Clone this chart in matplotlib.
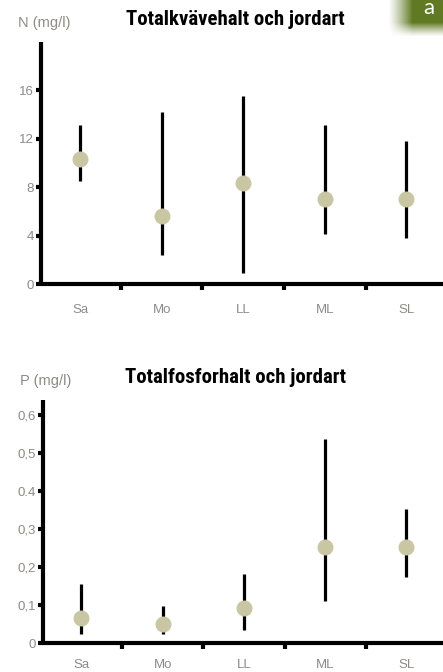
import numpy as np
import matplotlib.pyplot as plt
from matplotlib import font_manager

# soil types on the x axis
soils = ["Sa", "Mo", "LL", "ML", "SL"]

# total nitrogen (mg/l): mean, low, high
n_mean = [10.3, 5.6, 8.35, 7.0, 7.0]
n_low = [8.5, 2.4, 0.9, 4.1, 3.8]
n_high = [13.1, 14.2, 15.5, 13.1, 11.8]
n_ticks = [0, 4, 8, 12, 16]
n_ticklabels = ["0", "4", "8", "12", "16"]

# total phosphorus (mg/l): mean, low, high
p_mean = [0.067, 0.051, 0.091, 0.252, 0.252]
p_low = [0.023, 0.023, 0.033, 0.111, 0.174]
p_high = [0.155, 0.097, 0.183, 0.537, 0.352]
p_ticks = [0, 0.1, 0.2, 0.3, 0.4, 0.5, 0.6]
p_ticklabels = ["0", "0,1", "0,2", "0,3", "0.4", "0,5", "0,6"]


def bold_narrow_families():
    # narrow / condensed families that ship a bold face
    found = set()
    for f in font_manager.fontManager.ttflist:
        if "Narrow" in f.name or "Condensed" in f.name:
            w = f.weight if isinstance(f.weight, int) else 700 if "bold" in str(f.weight) else 400
            if w >= 700:
                found.add(f.name)
    prefer = ["Liberation Sans Narrow", "Roboto Condensed", "Open Sans Condensed"]
    return sorted(found, key=lambda n: prefer.index(n) if n in prefer else 99)


TITLE_FONT = bold_narrow_families() + ["DejaVu Sans"]
LABEL_FONT = ["Liberation Sans", "DejaVu Sans"]
GREY = "#8f8a86"
DOT = "#c9c7a3"


def draw_panel(ax, mean, low, high, ticks, ticklabels, ymax, title, unit, name_off):
    x = np.arange(len(soils))
    ax.vlines(x, low, high, color="black", lw=2.3, zorder=2)
    ax.plot(x, mean, "o", color=DOT, ms=10.5, zorder=3)

    ax.set_xlim(-0.48, 4.45)
    ax.set_ylim(0, ymax)
    for side in ("top", "right"):
        ax.spines[side].set_visible(False)
    for side in ("left", "bottom"):
        ax.spines[side].set_linewidth(3)
        ax.spines[side].set_capstyle("butt")

    ax.set_yticks(ticks)
    ax.set_yticklabels(ticklabels, fontsize=9.5, color=GREY, family=LABEL_FONT)
    ax.tick_params(axis="y", length=3.5, width=3, pad=1.5)

    # boundary ticks between soils, names centered under each soil
    ax.set_xticks(x[:-1] + 0.5)
    ax.set_xticklabels([])
    ax.tick_params(axis="x", length=4, width=3)
    for xi, name in zip(x, soils):
        ax.annotate(name, (xi, 0), xytext=(0, name_off), textcoords="offset points",
                    ha="center", va="center", fontsize=9.5, color=GREY,
                    family=LABEL_FONT, annotation_clip=False)

    ax.annotate(title, (0.5, 1.0), xycoords="axes fraction", xytext=(-5, 16),
                textcoords="offset points", ha="center", va="center",
                fontsize=15, fontweight="bold",
                family=TITLE_FONT, annotation_clip=False)
    ax.annotate(unit, (0, 1.0), xycoords="axes fraction", xytext=(2, 14),
                textcoords="offset points", ha="center", va="center",
                fontsize=10.5, color=GREY, family=LABEL_FONT,
                annotation_clip=False)


fig = plt.figure(figsize=(4.43, 6.72), dpi=100)

ax_n = fig.add_axes([41 / 443, 1 - 284 / 672, 1 - 41 / 443, 242 / 672])
draw_panel(ax_n, n_mean, n_low, n_high, n_ticks, n_ticklabels, 20,
           "Totalkvävehalt och jordart", "N (mg/l)", -19)

ax_p = fig.add_axes([42.5 / 443, 1 - 643 / 672, 1 - 42.5 / 443, 243 / 672])
draw_panel(ax_p, p_mean, p_low, p_high, p_ticks, p_ticklabels, 0.64,
           "Totalfosforhalt och jordart", "P (mg/l)", -16)

# green corner tab with a soft edge
tab = fig.add_axes([380 / 443, 1 - 44 / 672, 63 / 443, 44 / 672])
h, w = 44, 63
yy, xx = np.mgrid[0:h, 0:w]
fade = np.clip((xx - 8) / 24, 0, 1) * np.clip((h - 8 - yy) / 14, 0, 1)
rgba = np.zeros((h, w, 4))
rgba[..., 0] = 0.38
rgba[..., 1] = 0.48
rgba[..., 2] = 0.14
rgba[..., 3] = fade ** 1.2
tab.imshow(rgba, aspect="auto", interpolation="bilinear")
tab.axis("off")
fig.text(429 / 443, 1 - 14 / 672, "a", color="white", fontsize=16,
         family=["Lato", "DejaVu Sans"],
         ha="center", va="baseline")

fig.savefig("out.png", dpi=100)
